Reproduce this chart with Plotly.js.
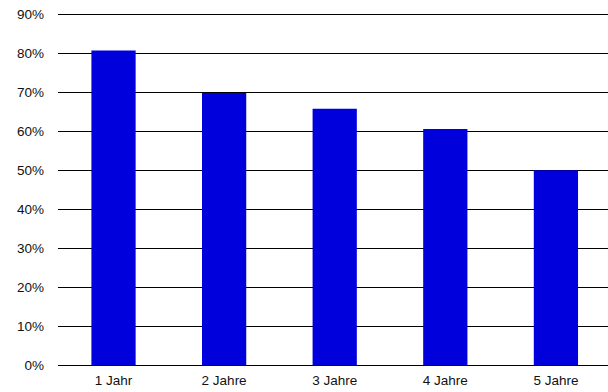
<!DOCTYPE html>
<html>
<head>
<meta charset="utf-8">
<script src="https://cdn.plot.ly/plotly-3.0.1.min.js"></script>
<style>html,body{margin:0;padding:0;background:#fff;}#chart{width:608px;height:392px;}</style>
</head>
<body>
<div id="chart"></div>
<script>
const categories = ["1 Jahr", "2 Jahre", "3 Jahre", "4 Jahre", "5 Jahre"];
const values = [0.807, 0.698, 0.658, 0.606, 0.500];
const yTickVals = [0, 0.1, 0.2, 0.3, 0.4, 0.5, 0.6, 0.7, 0.8, 0.9];
const yTickText = ["0%", "10%", "20%", "30%", "40%", "50%", "60%", "70%", "80%", "90%"];

const trace = {
  type: 'bar',
  x: categories,
  y: values,
  width: 0.4,
  marker: {color: '#0000DC', line: {width: 0}},
  hoverinfo: 'none'
};

const layout = {
  width: 608, height: 392,
  margin: {l: 58, r: 0, t: 12, b: 27, pad: 0},
  paper_bgcolor: '#fff', plot_bgcolor: '#fff',
  showlegend: false,
  font: {family: 'Liberation Sans, Arial, sans-serif', size: 13.5, color: '#111'},
  xaxis: {
    type: 'category',
    range: [-0.502, 4.471],
    showgrid: false, zeroline: false,
    showline: false,
    ticks: '', ticklen: 0,
    ticklabelstandoff: 5,
    tickfont: {size: 13.5, color: '#111'},
    fixedrange: true
  },
  yaxis: {
    range: [0, 0.906],
    tickvals: yTickVals, ticktext: yTickText,
    showgrid: true, gridcolor: '#000', gridwidth: 1,
    zeroline: true, zerolinecolor: '#000', zerolinewidth: 1,
    showline: false, ticks: '',
    ticklabelstandoff: 13,
    tickfont: {size: 13.5, color: '#111'},
    fixedrange: true
  }
};

Plotly.newPlot('chart', [trace], layout, {displayModeBar: false, staticPlot: true});
</script>
</body>
</html>
